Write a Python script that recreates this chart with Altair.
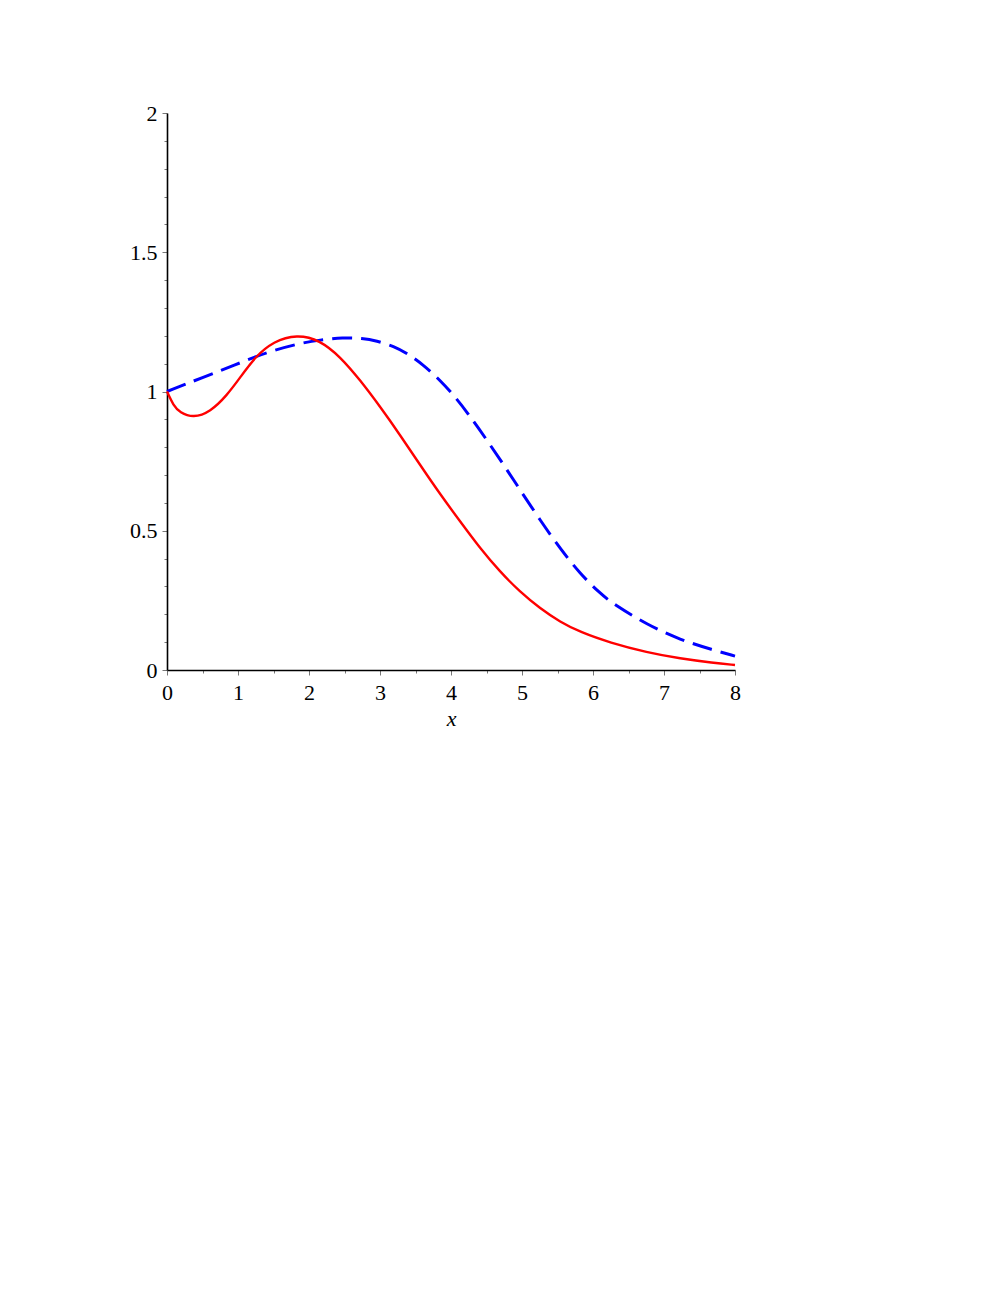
import altair as alt
import pandas as pd

# Red solid curve
red_x = [0, 0.09, 0.18, 0.37, 0.61, 0.84, 1.03, 1.24, 1.5, 1.83, 2.15, 2.44, 2.72, 3.0, 3.28, 3.56, 3.85, 4.13, 4.41, 4.69, 4.97, 5.25, 5.54, 5.82, 6.24, 6.76, 7.23, 7.69, 8.0]
red_y = [1.0, 0.950, 0.925, 0.905, 0.927, 0.985, 1.050, 1.124, 1.180, 1.205, 1.185, 1.125, 1.041, 0.946, 0.845, 0.738, 0.630, 0.533, 0.437, 0.353, 0.281, 0.222, 0.172, 0.136, 0.098, 0.063, 0.041, 0.026, 0.018]

# Blue dashed curve
blue_x = [0, 0.5, 1.0, 1.24, 1.5, 1.87, 2.15, 2.48, 2.75, 2.95, 3.2, 3.38, 3.6, 3.85, 4.06, 4.22, 4.5, 4.78, 4.97, 5.25, 5.54, 5.82, 6.1, 6.29, 6.76, 7.23, 7.69, 8.0]
blue_y = [1.0, 1.05, 1.10, 1.124, 1.148, 1.173, 1.185, 1.194, 1.191, 1.182, 1.162, 1.137, 1.098, 1.040, 0.980, 0.928, 0.828, 0.722, 0.648, 0.540, 0.435, 0.345, 0.275, 0.236, 0.163, 0.108, 0.072, 0.050]

x_ticks = [0, 0.5, 1, 1.5, 2, 2.5, 3, 3.5, 4, 4.5, 5, 5.5, 6, 6.5, 7, 7.5, 8]
y_ticks = [0, 0.1, 0.2, 0.3, 0.4, 0.5, 0.6, 0.7, 0.8, 0.9, 1.0, 1.1, 1.2, 1.3, 1.4, 1.5, 1.6, 1.7, 1.8, 1.9, 2.0]

red_df = pd.DataFrame({"x": red_x, "y": red_y})
blue_df = pd.DataFrame({"x": blue_x, "y": blue_y})

FONT = "Liberation Serif"
x_major = "abs(datum.value - round(datum.value)) < 1e-6"
y_major = "abs(datum.value*2 - round(datum.value*2)) < 1e-6"

x_axis = alt.Axis(
    values=x_ticks,
    title="x",
    titleFont=FONT, titleFontSize=22, titleFontStyle="italic", titleFontWeight="normal",
    titleColor="black", titlePadding=5,
    labelFont=FONT, labelFontSize=22, labelColor="black",
    labelExpr=f"{x_major} ? format(datum.value, '~g') : ''",
    labelOverlap=False, labelPadding=7, labelFlush=False,
    tickSize={"condition": {"test": x_major, "value": 5}, "value": 3},
    tickColor="#777777", tickWidth=1,
    domainColor="black", domainWidth=1.6, grid=False,
)
y_axis = alt.Axis(
    values=y_ticks,
    title=None,
    labelFont=FONT, labelFontSize=22, labelColor="black",
    labelExpr=f"{y_major} ? format(datum.value, '~g') : ''",
    labelOverlap=False, labelPadding=5, labelFlush=False,
    tickSize={"condition": {"test": y_major, "value": 5}, "value": 3},
    tickColor="#777777", tickWidth=1,
    domainColor="black", domainWidth=1.6, grid=False,
)

xs = alt.Scale(domain=[0, 8], nice=False, zero=False)
ys = alt.Scale(domain=[0, 2], nice=False, zero=False)

red = alt.Chart(red_df).mark_line(color="#ff0000", strokeWidth=2.4, interpolate="basis").encode(
    x=alt.X("x:Q", scale=xs, axis=x_axis),
    y=alt.Y("y:Q", scale=ys, axis=y_axis),
)
blue = alt.Chart(blue_df).mark_line(color="#0000ff", strokeWidth=3, strokeDash=[20, 9], interpolate="basis").encode(
    x=alt.X("x:Q", scale=xs, axis=x_axis),
    y=alt.Y("y:Q", scale=ys, axis=y_axis),
)

chart = alt.layer(blue, red).properties(
    width=568, height=557,
    autosize=alt.AutoSizeParams(type="none"),
    padding={"left": 159, "top": 105, "right": 60, "bottom": 80},
).configure_view(stroke=None)

chart.save("out.html", embed_options={"renderer": "svg", "actions": False})
